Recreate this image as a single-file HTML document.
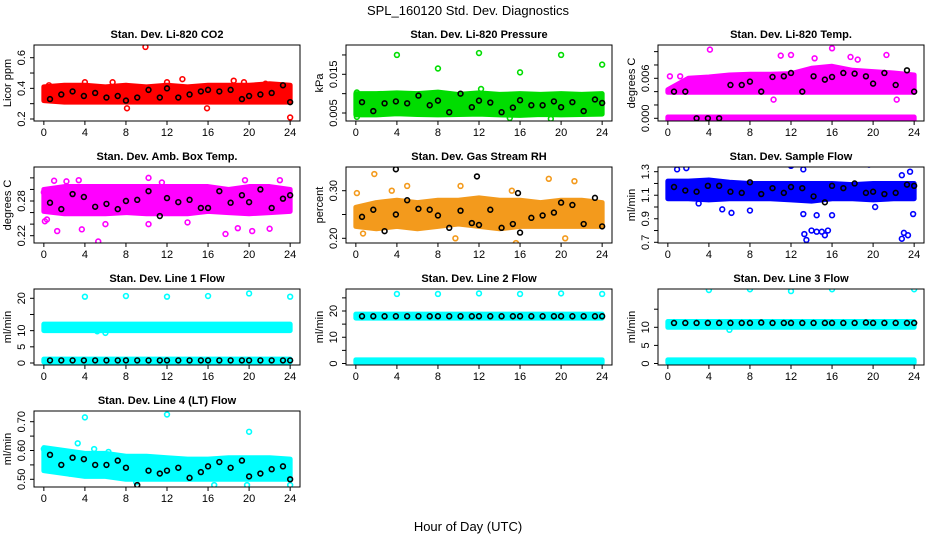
<!DOCTYPE html>
<html><head><meta charset="utf-8"><style>
html,body{margin:0;padding:0;background:#fff}
svg{display:block;font-family:"Liberation Sans",Arial,sans-serif}
</style></head><body>
<svg id="chart" width="936" height="540" viewBox="0 0 936 540" xmlns="http://www.w3.org/2000/svg">
<text x="468" y="15" text-anchor="middle" font-size="13">SPL_160120  Std. Dev. Diagnostics</text>
<text x="468" y="531" text-anchor="middle" font-size="13">Hour of Day (UTC)</text>
<g id="panels"></g>
</svg>
<script>
// ---------- data ----------
const xTicks=[0,4,8,12,16,20,24];
const bandHours=[0,2,4,6,8,10,12,14,16,18,20,22,24];
const meanHours=[0.6,1.7,2.8,3.9,5.0,6.1,7.2,8.0,9.1,10.2,11.3,12.0,13.1,14.2,15.3,16.0,17.1,18.2,19.3,20.0,21.1,22.2,23.3,24.0];
const flatHours=[0,24];

const co2Lo=[0.32,0.31,0.31,0.31,0.31,0.31,0.31,0.31,0.31,0.31,0.31,0.31,0.31];
const co2Hi=[0.41,0.42,0.42,0.41,0.42,0.41,0.42,0.41,0.42,0.42,0.42,0.43,0.42];
const co2Mean=[0.33,0.36,0.38,0.35,0.37,0.34,0.35,0.32,0.34,0.39,0.34,0.40,0.34,0.36,0.38,0.39,0.38,0.39,0.33,0.35,0.36,0.37,0.42,0.31];
const co2OutX=[9.9,13.5,24,6.7,18.5,8.1,15.9,4,12,19.5,0.5,21.6];
const co2OutY=[0.67,0.46,0.21,0.44,0.45,0.27,0.27,0.44,0.44,0.44,0.42,0.43];

const presLo=[0.0045,0.0045,0.0048,0.0046,0.0045,0.0046,0.0047,0.0045,0.0044,0.0046,0.0045,0.0046,0.0047];
const presHi=[0.0100,0.0100,0.0102,0.0100,0.0104,0.0098,0.0102,0.0098,0.0100,0.0098,0.0100,0.0098,0.0100];
const presMean=[0.0078,0.0055,0.0075,0.0080,0.0075,0.0095,0.0070,0.0082,0.0052,0.0100,0.0065,0.0082,0.0077,0.0052,0.0064,0.0083,0.0070,0.0070,0.0080,0.0065,0.0078,0.0055,0.0085,0.0076];
const presOutX=[4,8,12,16,20,24,12.2,0.1,0.1,15,19];
const presOutY=[0.0200,0.0165,0.0205,0.0155,0.0200,0.0175,0.0112,0.0103,0.0040,0.0037,0.0035];

const tempLo=[0.0039,0.0039,0.0039,0.0039,0.0039,0.0039,0.0039,0.0039,0.0039,0.0039,0.0039,0.0039,0.0039];
const tempHi=[0.0043,0.0060,0.0062,0.0065,0.0066,0.0066,0.0067,0.0075,0.0078,0.0072,0.0070,0.0068,0.0065];
const tempZeroLo=[-0.0002,-0.0002,-0.0002,-0.0002,-0.0002,-0.0002,-0.0002,-0.0002,-0.0002,-0.0002,-0.0002,-0.0002,-0.0002];
const tempZeroHi=[0.0002,0.0002,0.0002,0.0002,0.0002,0.0002,0.0002,0.0002,0.0002,0.0002,0.0002,0.0002,0.0002];
const tempMean=[0.004,0.004,0.000,0.000,0.000,0.005,0.005,0.0055,0.004,0.0062,0.0063,0.0068,0.004,0.0063,0.0058,0.0062,0.0068,0.0067,0.0063,0.0052,0.0068,0.0050,0.0072,0.0040];
const tempOutX=[4.1,16,12,21.3,10.3,22.3,0.2,1.2,11,14.3,17.8,18.5];
const tempOutY=[0.0103,0.0105,0.0095,0.0095,0.0028,0.0028,0.0063,0.0063,0.0094,0.0090,0.0092,0.0088];

const ambLo=[0.262,0.258,0.258,0.258,0.260,0.258,0.258,0.258,0.262,0.260,0.258,0.260,0.262];
const ambHi=[0.300,0.305,0.305,0.305,0.305,0.305,0.305,0.305,0.305,0.300,0.305,0.305,0.300];
const ambMean=[0.277,0.266,0.292,0.287,0.270,0.275,0.266,0.280,0.282,0.297,0.254,0.285,0.278,0.282,0.268,0.268,0.297,0.277,0.290,0.278,0.300,0.268,0.284,0.290];
const ambOutX=[0,0.1,1.0,1.3,3.4,3.7,5.3,10.2,10.2,17.7,18.9,20.3,22,23,19.6,14,6,0.3,2.2,11.5];
const ambOutY=[0.295,0.245,0.315,0.228,0.316,0.231,0.210,0.320,0.240,0.223,0.233,0.228,0.232,0.316,0.316,0.243,0.240,0.248,0.314,0.312];

const rhLo=[0.225,0.220,0.225,0.220,0.225,0.230,0.225,0.220,0.225,0.225,0.225,0.225,0.225];
const rhHi=[0.265,0.275,0.280,0.275,0.280,0.280,0.285,0.280,0.280,0.275,0.280,0.280,0.275];
const rhMean=[0.245,0.260,0.215,0.250,0.280,0.262,0.260,0.248,0.222,0.258,0.232,0.228,0.260,0.222,0.230,0.212,0.243,0.248,0.254,0.275,0.270,0.230,0.285,0.225];
const rhOutX=[1.8,18.8,21.3,0.7,9.7,15.6,20.4,5,10.2,0.1,3.5,15.2];
const rhOutY=[0.335,0.325,0.320,0.210,0.200,0.190,0.200,0.310,0.310,0.295,0.300,0.300];
const rhBlackX=[3.9,11.8,15.8];
const rhBlackY=[0.345,0.330,0.295];

const flowLo=[1.07,1.07,1.06,1.07,1.07,1.07,1.06,1.05,1.07,1.07,1.06,1.07,1.07];
const flowHi=[1.22,1.22,1.23,1.21,1.20,1.20,1.20,1.20,1.20,1.19,1.20,1.20,1.20];
const flowMean=[1.17,1.14,1.13,1.18,1.18,1.13,1.12,1.21,1.11,1.16,1.12,1.17,1.16,1.09,1.04,1.18,1.16,1.20,1.12,1.13,1.11,1.12,1.19,1.18];
const flowOutX=[0.9,1.8,3.0,6.2,8.0,12,13.2,13.3,13.5,13.2,14.0,14.5,15.0,15.3,15.6,14.5,16,19.6,20.2,22.8,23.0,23.4,23.6,23.9,22.8,0.6,5.3];
const flowOutY=[1.32,1.33,1.03,0.95,0.97,1.35,1.32,0.77,0.72,0.94,0.80,0.79,0.79,0.76,0.80,0.93,0.93,1.36,1.00,0.73,0.78,0.76,1.30,0.94,1.27,1.08,0.98];

const l1Lo=[10,10]; const l1Hi=[12,12];
const l1RowLo=[0.3,0.3]; const l1RowHi=[1.2,1.2];
const l1Mean=[0.8,0.8,0.8,0.8,0.8,0.8,0.8,0.8,0.8,0.8,0.8,0.8,0.8,0.8,0.8,0.8,0.8,0.8,0.8,0.8,0.8,0.8,0.8,0.8];
const l1OutX=[4,8,12,16,20,24,6,5.2];
const l1OutY=[20.5,20.7,20.5,20.7,21.5,20.5,9.3,9.8];

const l2Lo=[17.3,17.3]; const l2Hi=[18.8,18.8];
const l2RowLo=[0.2,0.2]; const l2RowHi=[1.4,1.4];
const l2Mean=[18,18,18,18,18,18,18,18,18,18,18,18,18,18,18,18,18,18,18,18,18,18,18,18];
const l2OutX=[4,8,12,16,20,24];
const l2OutY=[26.5,26.5,26.7,26.5,26.7,26.5];

const l3Lo=[10,10]; const l3Hi=[11.6,11.6];
const l3RowLo=[0.2,0.2]; const l3RowHi=[1.0,1.0];
const l3Mean=[11.2,11.2,11.2,11.2,11.2,11.2,11.2,11.2,11.3,11.2,11.2,11.2,11.2,11.2,11.2,11.2,11.2,11.2,11.3,11.2,11.2,11.2,11.2,11.2];
const l3OutX=[4,8,12,16,20,24,6];
const l3OutY=[20.3,20.5,20.0,20.5,21.5,20.5,9.3];

const l4Lo=[0.53,0.52,0.51,0.51,0.50,0.50,0.50,0.50,0.50,0.50,0.50,0.50,0.50];
const l4Hi=[0.61,0.60,0.59,0.59,0.58,0.58,0.575,0.57,0.57,0.575,0.575,0.575,0.57];
const l4Mean=[0.585,0.55,0.575,0.57,0.55,0.55,0.565,0.54,0.48,0.53,0.52,0.53,0.54,0.505,0.525,0.545,0.56,0.54,0.565,0.51,0.52,0.535,0.545,0.50];
const l4OutX=[4,12,20,3.3,4.9,0,9,16.6,19.8,24,2.5,6.3];
const l4OutY=[0.715,0.725,0.665,0.625,0.605,0.605,0.49,0.48,0.48,0.48,0.52,0.595];

const tickCo2=[0.2,0.3,0.4,0.5,0.6]; const labCo2=["0.2","","0.4","","0.6"];
const tickPres=[0.005,0.010,0.015,0.020]; const labPres=["0.005","","0.015",""];
const tickTemp=[0,0.002,0.004,0.006,0.008,0.010]; const labTemp=["0.000","","","0.006","",""];
const tickAmb=[0.22,0.24,0.26,0.28,0.30,0.32]; const labAmb=["0.22","","","0.28","",""];
const tickRh=[0.20,0.25,0.30]; const labRh=["0.20","","0.30"];
const tickFlow=[0.7,0.8,0.9,1.0,1.1,1.2,1.3]; const labFlow=["0.7","","0.9","","1.1","","1.3"];
const tickL1=[0,5,10,15,20]; const labL1=["0","5","10","","20"];
const tickL2=[0,5,10,15,20,25]; const labL2=["0","","10","","20",""];
const tickL3=[0,5,10,15]; const labL3=["0","5","10",""];
const tickL4=[0.50,0.55,0.60,0.65,0.70]; const labL4=["0.50","","0.60","","0.70"];

// ---------- layout ----------
const NS="http://www.w3.org/2000/svg";
const root=document.getElementById('panels');
const colX=[34,346,658], rowY=[45,167,289,411], W=266, H=76;
function mk(tag,attrs,parent){const e=document.createElementNS(NS,tag);for(const k in attrs)e.setAttribute(k,attrs[k]);(parent||root).appendChild(e);return e;}

const panels=[
 {name:'co2',title:'Stan. Dev. Li-820 CO2',ylab:'Licor ppm',c:0,r:0,col:'#ff0000',ref:[0.6,12.7,0.2,74],ticks:tickCo2,labs:labCo2,bands:[[bandHours,co2Lo,co2Hi]],ox:co2OutX,oy:co2OutY,my:co2Mean},
 {name:'pressure',title:'Stan. Dev. Li-820 Pressure',ylab:'kPa',c:1,r:0,col:'#00dd00',ref:[0.005,68,0.015,29.3],ticks:tickPres,labs:labPres,bands:[[bandHours,presLo,presHi]],ox:presOutX,oy:presOutY,my:presMean},
 {name:'temp',title:'Stan. Dev. Li-820 Temp.',ylab:'degrees C',c:2,r:0,col:'#ff00ff',ref:[0,73.3,0.006,33.3],ticks:tickTemp,labs:labTemp,bands:[[bandHours,tempLo,tempHi],[bandHours,tempZeroLo,tempZeroHi]],ox:tempOutX,oy:tempOutY,my:tempMean},
 {name:'amb-temp',title:'Stan. Dev. Amb. Box Temp.',ylab:'degrees C',c:0,r:1,col:'#ff00ff',ref:[0.22,68.7,0.28,34],ticks:tickAmb,labs:labAmb,bands:[[bandHours,ambLo,ambHi]],ox:ambOutX,oy:ambOutY,my:ambMean},
 {name:'rh',title:'Stan. Dev. Gas Stream RH',ylab:'percent',c:1,r:1,col:'#f39a1c',ref:[0.30,23.7,0.20,71.3],ticks:tickRh,labs:labRh,bands:[[bandHours,rhLo,rhHi]],ox:rhOutX,oy:rhOutY,my:rhMean,bx:rhBlackX,by:rhBlackY},
 {name:'sample-flow',title:'Stan. Dev. Sample Flow',ylab:'ml/min',c:2,r:1,col:'#0000ff',ref:[1.3,4.7,0.7,75.3],ticks:tickFlow,labs:labFlow,bands:[[bandHours,flowLo,flowHi]],ox:flowOutX,oy:flowOutY,my:flowMean},
 {name:'line1',title:'Stan. Dev. Line 1 Flow',ylab:'ml/min',c:0,r:2,col:'#00ffff',ref:[0,74,20,9.3],ticks:tickL1,labs:labL1,bands:[[flatHours,l1Lo,l1Hi],[flatHours,l1RowLo,l1RowHi]],ox:l1OutX,oy:l1OutY,my:l1Mean},
 {name:'line2',title:'Stan. Dev. Line 2 Flow',ylab:'ml/min',c:1,r:2,col:'#00ffff',ref:[0,74.5,20,22],ticks:tickL2,labs:labL2,bands:[[flatHours,l2Lo,l2Hi],[flatHours,l2RowLo,l2RowHi]],ox:l2OutX,oy:l2OutY,my:l2Mean},
 {name:'line3',title:'Stan. Dev. Line 3 Flow',ylab:'ml/min',c:2,r:2,col:'#00ffff',ref:[0,74.5,10,38.3],ticks:tickL3,labs:labL3,bands:[[flatHours,l3Lo,l3Hi],[flatHours,l3RowLo,l3RowHi]],ox:l3OutX,oy:l3OutY,my:l3Mean},
 {name:'line4',title:'Stan. Dev. Line 4 (LT) Flow',ylab:'ml/min',c:0,r:3,col:'#00ffff',ref:[0.50,68.3,0.70,10.7],ticks:tickL4,labs:labL4,bands:[[bandHours,l4Lo,l4Hi]],ox:l4OutX,oy:l4OutY,my:l4Mean}
];

panels.forEach(p=>{
  const L=colX[p.c], T=rowY[p.r];
  const g=mk('g',{});
  
  
  const xs=h=>L+9.85+h/24*246.3;
  const [v1,p1,v2,p2]=p.ref;
  const ys=v=>T+p1+(v-v1)*(p2-p1)/(v2-v1);
  const clip='clip-'+p.name;
  const cp=mk('clipPath',{id:clip},g); mk('rect',{x:L,y:T,width:W,height:H},cp);
  const dg=mk('g',{'clip-path':'url(#'+clip+')'},g);
  
  
  p.bands.forEach(b=>{
    const [hx,lo,hi]=b;
    let pts=hx.map((h,i)=>xs(h)+','+ys(hi[i]));
    for(let i=hx.length-1;i>=0;i--)pts.push(xs(hx[i])+','+ys(lo[i]));
    const band=mk('polygon',{points:pts.join(' '),fill:p.col,stroke:p.col,'stroke-width':5,'stroke-linejoin':'round'},dg);
    
    
  });
  p.ox.forEach((h,i)=>{
    const c=mk('circle',{cx:xs(h),cy:ys(p.oy[i]),r:2.4,fill:'none',stroke:p.col,'stroke-width':1.6},dg);
    
    
  });
  meanHours.forEach((h,i)=>{
    const c=mk('circle',{cx:xs(h),cy:ys(p.my[i]),r:2.4,fill:'none',stroke:'#000','stroke-width':1.6},dg);
    
    
  });
  if(p.bx) p.bx.forEach((h,i)=>{
    const c=mk('circle',{cx:xs(h),cy:ys(p.by[i]),r:2.4,fill:'none',stroke:'#000','stroke-width':1.6},dg);
    
    
  });
  const box=mk('rect',{x:L,y:T,width:W,height:H,fill:'none',stroke:'#000','stroke-width':1},g);
  
  
  // x axis
  const xa=mk('g',{},g);
  
  
  mk('line',{x1:xs(0),x2:xs(24),y1:T+H,y2:T+H,stroke:'#000'},xa);
  xTicks.forEach(t=>{
    mk('line',{x1:xs(t),x2:xs(t),y1:T+H,y2:T+H+4,stroke:'#000'},xa);
    const tx=mk('text',{x:xs(t),y:T+H+15,'text-anchor':'middle','font-size':11},xa);
    tx.textContent=t;
    
    
  });
  // y axis
  const ya=mk('g',{},g);
  
  
  mk('line',{x1:L,x2:L,y1:ys(p.ticks[0]),y2:ys(p.ticks[p.ticks.length-1]),stroke:'#000'},ya);
  p.ticks.forEach((t,i)=>{
    const y=ys(t);
    mk('line',{x1:L-4,x2:L,y1:y,y2:y,stroke:'#000'},ya);
    if(p.labs[i]){
      const tx=mk('text',{x:L-9,y:y,'text-anchor':'middle','font-size':11,transform:'rotate(-90 '+(L-9)+' '+y+')'},ya);
      tx.textContent=p.labs[i];
      
      
    }
  });
  const yl=mk('text',{x:L-23,y:T+H/2,'text-anchor':'middle','font-size':11,transform:'rotate(-90 '+(L-23)+' '+(T+H/2)+')'},g);
  yl.textContent=p.ylab;
  
  
  const tt=mk('text',{x:L+W/2,y:T-7,'text-anchor':'middle','font-size':11,'font-weight':'bold'},g);
  tt.textContent=p.title;
  
  
});
</script>
</body></html>
